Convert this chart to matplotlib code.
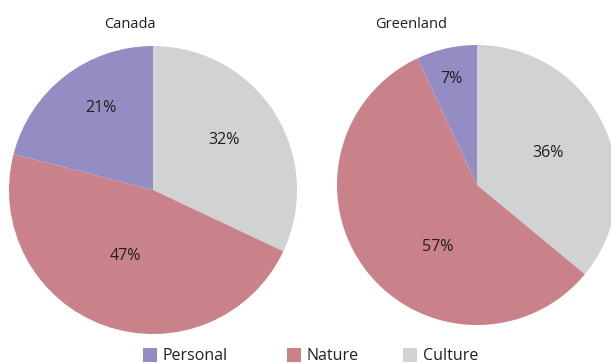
import matplotlib
matplotlib.use("Agg")
import matplotlib.pyplot as plt
from matplotlib.patches import Rectangle

plt.rcParams["font.family"] = ["Open Sans", "DejaVu Sans"]

# Data
categories = ["Culture", "Nature", "Personal"]
canada = [32, 47, 21]
greenland = [36, 57, 7]
colors = {"Personal": "#948dc4", "Nature": "#c98289", "Culture": "#d1d2d4"}
legend_order = ["Personal", "Nature", "Culture"]
titles = ["Canada", "Greenland"]

TEXT = "#231f20"
W, H = 611, 363
fig = plt.figure(figsize=(W / 100, H / 100), dpi=100)


def px_axes(cx, cy, r):
    """Axes box (pixels, origin top-left) holding a pie of radius r centred at cx, cy."""
    return fig.add_axes([(cx - r) / W, (H - cy - r) / H, 2 * r / W, 2 * r / H])


# pie centre/radius in pixels, title x, and label offsets in pie-radius units
layouts = [
    dict(cx=153, cy=190, r=144, tx=130,
         offs=[(0.49, 0.35), (-0.19, -0.46), (-0.36, 0.57)]),
    dict(cx=477, cy=185, r=140, tx=411,
         offs=[(0.51, 0.23), (-0.28, -0.44), (-0.18, 0.76)]),
]

for vals, title, lay in zip([canada, greenland], titles, layouts):
    ax = px_axes(lay["cx"], lay["cy"], lay["r"])
    wedges, texts, autotexts = ax.pie(
        vals,
        colors=[colors[c] for c in categories],
        startangle=90,
        counterclock=False,
        radius=1.0,
        autopct="%d%%",
        pctdistance=0.6,
        wedgeprops=dict(linewidth=0),
        textprops=dict(color=TEXT, fontsize=11.5),
    )
    for t, (ox, oy) in zip(autotexts, lay["offs"]):
        t.set_position((ox, oy))
    ax.set_xlim(-1, 1)
    ax.set_ylim(-1, 1)
    ax.axis("off")
    fig.text(lay["tx"] / W, 1 - 24 / H, title, ha="center", va="center",
             fontsize=10.5, color=TEXT)

# Legend along the bottom edge
legend_x = [143, 287, 403]
sq = 14
for name, x in zip(legend_order, legend_x):
    fig.patches.append(Rectangle((x / W, (H - 348 - sq) / H), sq / W, sq / H,
                                 transform=fig.transFigure, facecolor=colors[name],
                                 edgecolor="none"))
    fig.text((x + sq + 6) / W, (H - 356) / H, name, ha="left", va="center",
             fontsize=11.5, color=TEXT)

fig.savefig("out.png", dpi=100)
